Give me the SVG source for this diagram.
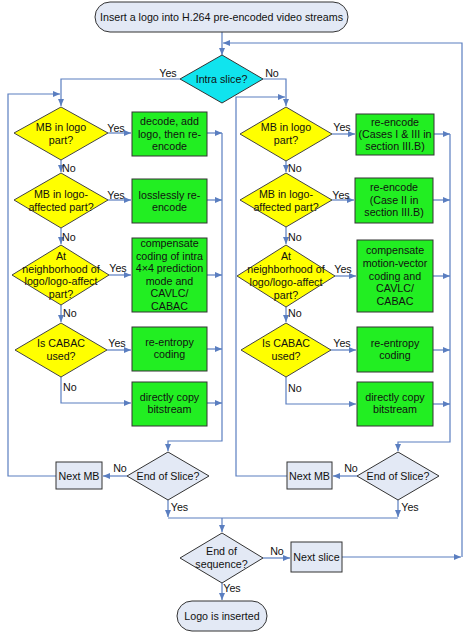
<svg xmlns="http://www.w3.org/2000/svg" width="472" height="634" viewBox="0 0 472 634">
<defs>
<marker id="a" markerWidth="7" markerHeight="6" refX="7" refY="3" orient="auto" markerUnits="userSpaceOnUse"><path d="M0,0 L7,3 L0,6 z" fill="#5A7EC0"/></marker>
</defs>
<style>
text{font-family:"Liberation Sans",Arial,sans-serif;font-size:10.7px;fill:#111;text-anchor:middle}
.s{text-anchor:start}
.c path{fill:none;stroke:#5A7EC0;stroke-width:1.2}
.c .m{marker-end:url(#a)}
.y{fill:#FFFF00;stroke:#444;stroke-width:1}
.g{fill:#22EE22;stroke:#333;stroke-width:1}
.l{fill:#E3E9F5;stroke:#333;stroke-width:1}
.cy{fill:#10E4EE;stroke:#333;stroke-width:1}
</style>
<rect width="472" height="634" fill="#fff"/>
<g class="c" id="connectors">
<path class="m" d="M222,32 V55"/>
<path class="m" d="M462,557 V43 H223"/>
<path class="m" d="M180,79 H61 V106"/>
<path class="m" d="M263,79 H286 V106"/>
<path class="m" d="M56,476 H8 V94 H60"/>
<path class="m" d="M287,476 H236 V97 H285"/>
<path class="m" d="M108,133 H131"/>
<path class="m" d="M61,160 V172"/>
<path class="m" d="M108,200 H131"/>
<path class="m" d="M61,228 V244"/>
<path class="m" d="M109,275 H131"/>
<path class="m" d="M61,305 V322"/>
<path class="m" d="M107,350 H131"/>
<path class="m" d="M61,377 V403 H131"/>
<path class="m" d="M207,133 H222"/>
<path class="m" d="M207,200 H222"/>
<path class="m" d="M207,275 H222"/>
<path class="m" d="M207,349 H222"/>
<path class="m" d="M207,403 H222"/>
<path class="m" d="M222,133 V441 H168 V451"/>
<path class="m" d="M332,134 H355"/>
<path class="m" d="M286,161 V172"/>
<path class="m" d="M332,200 H354"/>
<path class="m" d="M286,227 V244"/>
<path class="m" d="M335,276 H356"/>
<path class="m" d="M286,307 V322"/>
<path class="m" d="M331,350 H356"/>
<path class="m" d="M286,377 V404 H356"/>
<path class="m" d="M434,134 H450"/>
<path class="m" d="M433,200 H450"/>
<path class="m" d="M433,276 H450"/>
<path class="m" d="M433,350 H450"/>
<path class="m" d="M433,404 H450"/>
<path class="m" d="M450,134 V442 H398 V451"/>
<path class="m" d="M127,476 H103"/>
<path class="m" d="M357,476 H333"/>
<path class="m" d="M168,500 V517"/>
<path class="m" d="M398,500 V517"/>
<path d="M168,518 H398"/>
<path class="m" d="M222,518 V532"/>
<path class="m" d="M263,558 H290"/>
<path class="m" d="M342,557 H461"/>
<path class="m" d="M222,583 V600"/>
</g>
<g id="labels">
<text x="168" y="77">Yes</text>
<text x="272" y="77">No</text>
<text x="116" y="132">Yes</text>
<text x="116" y="199">Yes</text>
<text x="118" y="272">Yes</text>
<text x="117" y="347">Yes</text>
<text class="s" x="62" y="172">No</text>
<text class="s" x="62" y="241">No</text>
<text class="s" x="63" y="317">No</text>
<text class="s" x="63" y="391">No</text>
<text x="342" y="131">Yes</text>
<text x="341" y="199">Yes</text>
<text x="343" y="273">Yes</text>
<text x="342" y="347">Yes</text>
<text class="s" x="288" y="172">No</text>
<text class="s" x="288" y="241">No</text>
<text class="s" x="288" y="317">No</text>
<text class="s" x="288" y="392">No</text>
<text x="120" y="472">No</text>
<text x="351" y="472">No</text>
<text x="179.5" y="511">Yes</text>
<text x="410" y="511">Yes</text>
<text x="277" y="555">No</text>
<text x="232" y="592">Yes</text>
</g>
<g id="start"><rect class="l" x="95" y="2" width="253" height="30" rx="15"/><text x="221.5" y="21">Insert a logo into H.264 pre-encoded video streams</text></g>
<g id="intra"><polygon class="cy" points="222,55 263,79 222,103 180,79"/><text x="221.5" y="83">Intra slice?</text></g>
<g id="l-d1"><polygon class="y" points="61,107 108,133 61,160 14,133"/><text x="61" y="131">MB in logo</text><text x="61" y="144">part?</text></g>
<g id="l-d2"><polygon class="y" points="61,173 108,200 61,228 14,200"/><text x="61" y="198">MB in logo-</text><text x="61" y="211">affected part?</text></g>
<g id="l-d3"><polygon class="y" points="61,245 109,275 61,305 12,275"/><text x="61" y="260">At</text><text x="61" y="272.5">neighborhood of</text><text x="61" y="285">logo/logo-affect</text><text x="61" y="298">part?</text></g>
<g id="l-d4"><polygon class="y" points="61,323 107,350 61,377 15,350"/><text x="61" y="347">Is CABAC</text><text x="61" y="360">used?</text></g>
<g id="l-b1"><rect class="g" x="132" y="112" width="75" height="44"/><text x="169.5" y="125">decode, add</text><text x="169.5" y="137.5">logo, then re-</text><text x="169.5" y="150">encode</text></g>
<g id="l-b2"><rect class="g" x="132" y="179" width="75" height="44"/><text x="169.5" y="199">losslessly re-</text><text x="169.5" y="211">encode</text></g>
<g id="l-b3"><rect class="g" x="132" y="238" width="75" height="74"/><text x="169.5" y="247">compensate</text><text x="169.5" y="259.5">coding of intra</text><text x="169.5" y="272">4×4 prediction</text><text x="169.5" y="284.5">mode and</text><text x="169.5" y="297">CAVLC/</text><text x="169.5" y="309.5">CABAC</text></g>
<g id="l-b4"><rect class="g" x="132" y="327" width="75" height="44"/><text x="169.5" y="346">re-entropy</text><text x="169.5" y="358">coding</text></g>
<g id="l-b5"><rect class="g" x="132" y="382" width="75" height="44"/><text x="169.5" y="401">directly copy</text><text x="169.5" y="412.5">bitstream</text></g>
<g id="r-d1"><polygon class="y" points="286,107 332,134 286,161 240,134"/><text x="286" y="131">MB in logo</text><text x="286" y="144">part?</text></g>
<g id="r-d2"><polygon class="y" points="286,173 332,200 286,227 240,200"/><text x="286" y="198">MB in logo-</text><text x="286" y="211">affected part?</text></g>
<g id="r-d3"><polygon class="y" points="286,245 335,276 286,307 237,276"/><text x="286" y="260">At</text><text x="286" y="272.5">neighborhood of</text><text x="286" y="285.5">logo/logo-affect</text><text x="286" y="298.5">part?</text></g>
<g id="r-d4"><polygon class="y" points="286,323 331,350 286,377 241,350"/><text x="286" y="347">Is CABAC</text><text x="286" y="360">used?</text></g>
<g id="r-b1"><rect class="g" x="356" y="114" width="78" height="41"/><text x="395" y="126">re-encode</text><text x="395" y="138">(Cases I &amp; III in</text><text x="395" y="150">section III.B)</text></g>
<g id="r-b2"><rect class="g" x="355" y="178" width="78" height="45"/><text x="394" y="191">re-encode</text><text x="394" y="204">(Case II in</text><text x="394" y="216">section III.B)</text></g>
<g id="r-b3"><rect class="g" x="357" y="240" width="76" height="72"/><text x="395" y="254">compensate</text><text x="395" y="267">motion-vector</text><text x="395" y="279.5">coding and</text><text x="395" y="292">CAVLC/</text><text x="395" y="304.5">CABAC</text></g>
<g id="r-b4"><rect class="g" x="357" y="327" width="76" height="45"/><text x="395" y="347">re-entropy</text><text x="395" y="359">coding</text></g>
<g id="r-b5"><rect class="g" x="357" y="382" width="76" height="44"/><text x="395" y="401">directly copy</text><text x="395" y="413">bitstream</text></g>
<g id="l-next"><rect class="l" x="56" y="462" width="46" height="27"/><text x="79" y="480">Next MB</text></g>
<g id="l-eos"><polygon class="l" points="168,452 209,476 168,500 127,476"/><text x="168" y="480">End of Slice?</text></g>
<g id="r-next"><rect class="l" x="287" y="462" width="45" height="27"/><text x="309.5" y="480">Next MB</text></g>
<g id="r-eos"><polygon class="l" points="398,452 439,476 398,500 357,476"/><text x="398" y="480">End of Slice?</text></g>
<g id="eoseq"><polygon class="l" points="222,533 263,558 222,583 180,558"/><text x="221.5" y="555">End of</text><text x="221.5" y="568">sequence?</text></g>
<g id="next-slice"><rect class="l" x="291" y="542" width="51" height="30"/><text x="316.5" y="561">Next slice</text></g>
<g id="end"><rect class="l" x="177" y="601" width="90" height="30" rx="15"/><text x="222" y="620">Logo is inserted</text></g>
</svg>
